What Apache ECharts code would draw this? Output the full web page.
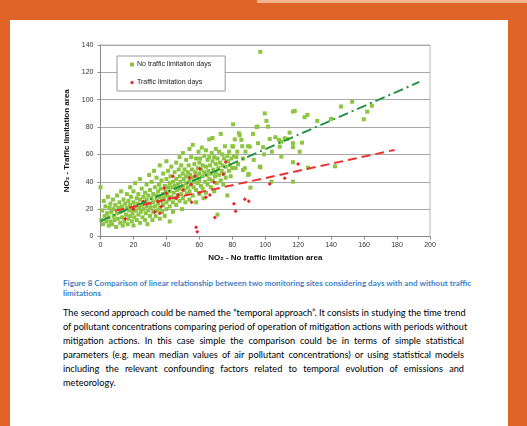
<!DOCTYPE html>
<html>
<head>
<meta charset="utf-8">
<script src="https://cdn.jsdelivr.net/npm/echarts@6/dist/echarts.min.js"></script>
<style>
html,body{margin:0;padding:0;width:527px;height:426px;overflow:hidden;background:#e06427;}
#page{position:absolute;left:10px;top:20px;width:498px;height:406px;background:#fff;}
#strip{position:absolute;left:257px;top:0;width:270px;height:3px;background:#f2b48c;}
#chart{position:absolute;left:0;top:0;width:527px;height:270px;}
.cap{position:absolute;left:63px;width:403px;font-family:Lato,"Open Sans",sans-serif;font-weight:bold;font-size:8.1px;color:#3f7fc4;white-space:nowrap;line-height:10px;}
.ln{position:absolute;left:63px;width:401px;font-family:Lato,"Open Sans",sans-serif;font-size:9.2px;color:#000;white-space:nowrap;line-height:14px;}
.j{text-align:justify;text-align-last:justify;}
</style>
</head>
<body>
<div id="page"></div>
<div id="strip"></div>
<div id="chart"></div>
<div class="cap j" style="top:278px;">Figure 8 Comparison of linear relationship between two monitoring sites considering days with and without traffic</div>
<div class="cap" style="top:288px;">limitations</div>
<div class="ln j" style="top:306px;">The second approach could be named the “temporal approach”. It consists in studying the time trend</div>
<div class="ln j" style="top:320px;">of pollutant concentrations comparing period of operation of mitigation actions with periods without</div>
<div class="ln j" style="top:334px;">mitigation actions. In this case simple the comparison could be in terms of simple statistical</div>
<div class="ln j" style="top:348px;">parameters (e.g. mean median values of air pollutant concentrations) or using statistical models</div>
<div class="ln j" style="top:362px;">including the relevant confounding factors related to temporal evolution of emissions and</div>
<div class="ln" style="top:376px;">meteorology.</div>
<script>
const xTicks = [0,20,40,60,80,100,120,140,160,180,200];
const yTicks = [0,20,40,60,80,100,120,140];
const seriesNames = ['No traffic limitation days','Traffic limitation days'];

const noLimitation = [
[0,36],[0.5,12],[1,19],[1.5,9],[2,26],[2.5,15],[3,22],[3.5,11],[4,17],[4.5,29],[5,8],[5,14],[5.5,21],[6,24],[6,11],
[6.5,18],[7,9],[7.5,27],[8,15],[8,20],[8.5,12],[9,23],[9.5,7],[10,17],[10,30],[10.5,13],[11,21],[11.5,25],[12,10],[12,18],
[12.5,33],[13,14],[13,22],[13.5,8],[14,27],[14,19],[14.5,11],[15,24],[15.5,16],[16,31],[16,21],[16.5,9],[17,13],[17,26],[17.5,19],[18,36],[18,15],[18,23],
[18.5,29],[19,11],[19,20],[19.5,17],[20,25],[20,33],[20,8],[20.5,14],[21,22],[21,39],[21.5,19],[22,28],[22,12],[22.5,24],[23,16],[23,31],[23.5,21],[24,10],[24,27],[24,42],
[24.5,18],[25,23],[25,35],[25.5,14],[26,29],[26,20],[26.5,25],[27,12],[27,32],[27.5,17],[28,38],[28,22],[28,27],[28.5,9],[29,19],[29,30],[29.5,45],[30,24],[30,15],[30,34],
[30.5,21],[31,28],[31,40],[31.5,12],[32,25],[32,18],[32,31],[32.5,48],[33,22],[33,36],[33.5,15],[34,27],[34,43],[34,30],[34.5,19],[35,33],[35,24],[35.5,38],[36,13],[36,29],[36,52],[36,21],
[36.5,35],[37,26],[37,41],[37.5,18],[38,31],[38,23],[38,46],[38.5,28],[39,37],[39,15],[39.5,33],[40,25],[40,42],[40,20],[40,55],[40.5,30],[41,36],[41,48],[41.5,27],[42,22],[42,39],[42,33],[42,11],
[42.5,44],[43,29],[43,51],[43.5,36],[44,25],[44,40],[44,18],[44.5,32],[45,47],[45,37],[45.5,28],[46,54],[46,42],[46,23],[46.5,34],[47,38],[47,30],[47.5,49],[48,26],[48,44],[48,58],[48,35],
[48.5,40],[49,31],[49,52],[49.5,20],[50,37],[50,46],[50,28],[50,61],[50.5,42],[51,34],[51,49],[51.5,25],[52,39],[52,56],[52,44],[52.5,31],[53,47],[53,36],[53.5,52],[54,27],[54,41],[54,64],[54,33],
[54.5,45],[55,38],[55,58],[55.5,49],[56,30],[56,67],[56,43],[56.5,36],[57,53],[57,40],[57.5,47],[58,34],[58,57],[58,25],[58.5,44],[59,50],[59,39],[59.5,62],[60,46],[60,31],[60,54],[60,41],
[60.5,57],[61,37],[61,49],[61.5,65],[62,44],[62,35],[62,52],[62.5,28],[63,47],[63,59],[63.5,40],[64,63],[64,51],[64,32],[64.5,45],[65,56],[65,38],[65.5,48],[66,58],[66,42],[66,71],
[66.5,52],[67,36],[67,46],[67.5,61],[68,55],[68,41],[68,72],[68.5,49],[69,58],[69,33],[69.5,44],[70,53],[70,64],[70,47],[70.5,39],[71,16],[71,57],[71.5,50],[72,62],[72,45],
[72.5,54],[73,41],[73,75],[73.5,48],[74,60],[74,52],[74.5,38],[75,57],[75,46],[75.5,66],[76,51],[76,43],[77,59],[77,30],[77.5,55],[78,48],[78,62],[78.5,52],[79,44],[79.5,57],[80,50],[80,66],
[80.5,82],[80.5,65.7],[81,58.9],[81.5,71],[82,50],[82.5,58],[83,62],[83.5,53],[84,75.5],[84.5,74],[85.5,70.6],[86,66],[86.5,57],[86.5,48.6],[87.6,49.9],[88,62],[89.6,45],[89.6,66],[90.6,65.7],[90,45.7],[91,35.7],[92.6,75],[93,56],[94.7,80],[95.3,80.3],[95.6,68.2],[96.7,51.1],[97,135],[97.1,50.6],[98.7,65.3],[99.3,60],
[99.7,90],[100.7,84.5],[101.7,80.3],[102.7,71.3],[103.8,40.1],[104,62],[106.2,72.6],[108.4,70.6],[108.8,65.7],[109.8,69.3],[109.8,58.4],[111.8,71.8],[113.2,71.3],[114.8,75.9],[116.8,91.3],[117.9,91.8],[116.8,65.3],[116.8,68.2],[116.8,54.3],[116.8,40.1],[120.9,62],[122.3,68.6],[123.9,87.2],[125.6,88.9],[125.9,50.3],[131.6,84.5],[140,86],[142.3,51.3],[146,95],[152.8,98.5],[159.8,85.7],[161.9,91.3],[164.7,95.6]
];

const withLimitation = [
[15,13],[20,20],[26,25.5],[28,24],[33,18],[35,25.5],[36,17],[37,22],[38.7,35.3],[40,31.6],[42,28],[44,44],[46,28],[47,30.5],[50,34],[54,43],[55,38],[55.3,25],[57.3,44.3],[58,6.7],[58.7,3.5],[60,32],[60.3,49.6],[64,28.7],[66.4,30.4],[69,39.6],[69.4,13.8],[74.4,45.5],[76,54.5],[81,24],[82,18.5],[87.6,27.2],[90,25.7],[102.7,38.4],[111.8,42.6],[119.9,53]
];

const trendNoLimitation = [[0,11.3],[193.5,113]];
const trendWithLimitation = [[9,18.9],[178.5,63.3]];

const chart = echarts.init(document.getElementById('chart'), null, {renderer:'canvas'});
const lblFont = {fontFamily:'Liberation Sans, Arial, sans-serif', fontSize:7, color:'#333'};
chart.setOption({
  animation:false,
  backgroundColor:'transparent',
  grid:{left:100.5, right:97, top:45, bottom:33.5, show:true, borderColor:'#b8b8b8', borderWidth:1, outerBoundsMode:'none'},
  legend:{
    data:seriesNames,
    orient:'vertical', left:117, top:56,
    padding:[5,14,5,13], itemGap:11, itemWidth:4, itemHeight:4,
    backgroundColor:'#fff', borderColor:'#9a9a9a', borderWidth:1,
    textStyle:{fontFamily:'Liberation Sans, Arial, sans-serif', fontSize:7, color:'#222', padding:[0,0,0,-2]}
  },
  xAxis:{
    type:'value', min:xTicks[0], max:xTicks[xTicks.length-1], interval:20,
    name:'NO₂ - No traffic limitation area', nameLocation:'middle', nameGap:17,
    nameTextStyle:{fontFamily:'Liberation Sans, Arial, sans-serif', fontSize:8, fontWeight:'bold', color:'#111'},
    axisLine:{show:true, lineStyle:{color:'#8a8a8a', width:1}},
    axisTick:{show:true, length:3, lineStyle:{color:'#8a8a8a'}},
    axisLabel:Object.assign({margin:5}, lblFont),
    splitLine:{show:false}
  },
  yAxis:{
    type:'value', min:yTicks[0], max:yTicks[yTicks.length-1], interval:20,
    name:'NO₂ - Traffic limitation area', nameLocation:'middle', nameGap:28, nameRotate:90,
    nameTextStyle:{fontFamily:'Liberation Sans, Arial, sans-serif', fontSize:8, fontWeight:'bold', color:'#111'},
    axisLine:{show:true, lineStyle:{color:'#8a8a8a', width:1}},
    axisTick:{show:true, length:3, lineStyle:{color:'#8a8a8a'}},
    axisLabel:Object.assign({margin:7}, lblFont),
    splitLine:{show:true, lineStyle:{color:'#a8a8a8', width:1}}
  },
  series:[
    {name:seriesNames[0], type:'scatter', data:noLimitation, symbol:'rect', symbolSize:4,
     itemStyle:{color:'#8cc540', opacity:1}},
    {name:seriesNames[1], type:'scatter', data:withLimitation, symbol:'diamond', symbolSize:4,
     itemStyle:{color:'#e8262a', opacity:1}},
    {type:'line', data:trendNoLimitation, symbol:'none', silent:true,
     lineStyle:{color:'#239143', width:2, type:[10,4,2,4]}},
    {type:'line', data:trendWithLimitation, symbol:'none', silent:true,
     lineStyle:{color:'#ee3232', width:2, type:[9,5]}}
  ]
});
</script>
</body>
</html>
